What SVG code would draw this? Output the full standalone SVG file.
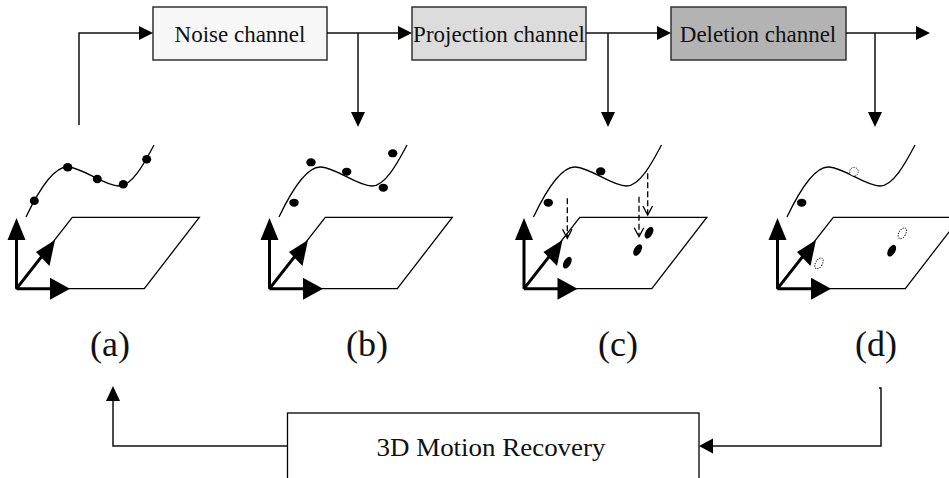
<svg xmlns="http://www.w3.org/2000/svg" xmlns:xlink="http://www.w3.org/1999/xlink" width="949" height="478" viewBox="0 0 949 478">
<style>
.box{stroke:#333;stroke-width:1.5}
.t{font-family:"Liberation Serif","Times New Roman",serif;fill:#111;text-anchor:middle}
.conn{fill:none;stroke:#111;stroke-width:1.5}
.ah{fill:#000}
.thin{fill:none;stroke:#000;stroke-width:1.3}
.axis{fill:none;stroke:#000;stroke-width:3}
.dot{fill:#000}
.dash{fill:none;stroke:#000;stroke-width:1.3;stroke-dasharray:6 3}
.ghost{fill:#fff;stroke:#000;stroke-width:0.9;stroke-dasharray:1.2 1.2}
</style>
<defs>
<g id="scene">
<path class="thin" d="M16.5,288.7 L72.3,217.3 L199.3,217.3 L144.3,288.7 Z"/>
<path class="axis" d="M16.5,288.7 V235 M16.5,288.7 H52 M16.5,288.7 L46,251"/>
<path class="ah" d="M16.5,218 L7.5,240 L25.5,240 Z"/>
<path class="ah" d="M70,288.7 L50,277.7 L50,299.7 Z"/>
<path class="ah" d="M55,240 L36,252 L49.5,266 Z"/>
<path class="thin" d="M26,217 C36,196 52,166 68,167 C84,168 104,186 119,186 C132,186 144,164 154,145"/>
</g>
</defs>

<g id="panel-a">
<use xlink:href="#scene"/>
<ellipse class="dot" cx="34.3" cy="200.7" rx="4.5" ry="4.3"/>
<ellipse class="dot" cx="67.7" cy="167.3" rx="4.7" ry="4.3"/>
<ellipse class="dot" cx="97.3" cy="179" rx="4.5" ry="4.3"/>
<ellipse class="dot" cx="123.3" cy="184.3" rx="4.5" ry="4.3"/>
<ellipse class="dot" cx="146.7" cy="159.3" rx="4.5" ry="4.3"/>
<text class="t" x="110" y="356" font-size="36">(a)</text>
</g>

<g id="panel-b">
<use xlink:href="#scene" transform="translate(253,0)"/>
<ellipse class="dot" cx="294" cy="202.7" rx="4.7" ry="4"/>
<ellipse class="dot" cx="311" cy="162.3" rx="4.7" ry="4"/>
<ellipse class="dot" cx="346.7" cy="171.7" rx="4.7" ry="4"/>
<ellipse class="dot" cx="383.3" cy="187.7" rx="4.7" ry="4"/>
<ellipse class="dot" cx="392.7" cy="153.3" rx="4.7" ry="4"/>
<text class="t" x="367" y="356" font-size="36">(b)</text>
</g>

<g id="panel-c">
<use xlink:href="#scene" transform="translate(507.5,0)"/>
<ellipse class="dot" cx="548.3" cy="202.7" rx="4.7" ry="4"/>
<ellipse class="dot" cx="600.7" cy="171.3" rx="4.7" ry="4"/>
<ellipse class="dot" cx="567.3" cy="262.7" rx="3.6" ry="6.4" transform="rotate(30 567.3 262.7)"/>
<ellipse class="dot" cx="637.7" cy="250" rx="3.6" ry="6.4" transform="rotate(30 637.7 250)"/>
<ellipse class="dot" cx="649" cy="232.7" rx="3.6" ry="6.4" transform="rotate(30 649 232.7)"/>
<path class="dash" d="M567.3,198.3 V237"/>
<path class="thin" d="M562.5,229.3 L567.3,238.3 L572,229.3"/>
<path class="dash" d="M639,196.7 V235.5"/>
<path class="thin" d="M634.2,227.7 L639,236.7 L643.8,227.7"/>
<path class="dash" d="M647.7,173.3 V214"/>
<path class="thin" d="M642.9,206 L647.7,215 L652.5,206"/>
<text class="t" x="618" y="356" font-size="36">(c)</text>
</g>

<g id="panel-d">
<use xlink:href="#scene" transform="translate(761,0)"/>
<ellipse class="dot" cx="801.7" cy="202.7" rx="4.7" ry="4"/>
<ellipse class="ghost" cx="854" cy="171.7" rx="4.3" ry="4.3"/>
<ellipse class="ghost" cx="819" cy="263.3" rx="3.4" ry="6" transform="rotate(30 819 263.3)"/>
<ellipse class="ghost" cx="902.3" cy="233.3" rx="3.4" ry="6" transform="rotate(30 902.3 233.3)"/>
<ellipse class="dot" cx="891.7" cy="250.7" rx="3.6" ry="6.4" transform="rotate(30 891.7 250.7)"/>
<text class="t" x="876" y="356" font-size="36">(d)</text>
</g>

<g id="noise-channel">
<rect class="box" x="153" y="7" width="174" height="53" fill="#f7f7f7"/>
<text class="t" x="240" y="42" font-size="23">Noise channel</text>
</g>
<g id="projection-channel">
<rect class="box" x="412" y="7" width="174" height="53" fill="#dcdcdc"/>
<text class="t" x="499" y="42" font-size="23">Projection channel</text>
</g>
<g id="deletion-channel">
<rect class="box" x="671" y="7" width="175" height="53" fill="#b3b3b3"/>
<text class="t" x="758" y="42" font-size="23">Deletion channel</text>
</g>
<g id="motion-recovery">
<rect x="287.5" y="413" width="411.5" height="80" fill="#fff" stroke="#000" stroke-width="1.3"/>
<text class="t" x="491" y="456" font-size="25" textLength="229" lengthAdjust="spacingAndGlyphs">3D Motion Recovery</text>
</g>

<g id="connectors">
<path class="conn" d="M79,125 V33 H140"/>
<path class="ah" d="M153,33 L139,26 L139,40 Z"/>
<path class="conn" d="M327,33 H399 M358,33 V113"/>
<path class="ah" d="M412,33 L398,26 L398,40 Z"/>
<path class="ah" d="M358,127 L351,112 L365,112 Z"/>
<path class="conn" d="M586,33 H658 M608,33 V113"/>
<path class="ah" d="M671,33 L657,26 L657,40 Z"/>
<path class="ah" d="M608,127 L601,112 L615,112 Z"/>
<path class="conn" d="M846,33 H917 M875,33 V113"/>
<path class="ah" d="M930,33 L916,26 L916,40 Z"/>
<path class="ah" d="M875,127 L868,112 L882,112 Z"/>
<path class="conn" d="M879,388 H881 V446 H712"/>
<path class="ah" d="M699,446 L713,438.5 L713,453.5 Z"/>
<path class="conn" d="M287.5,446 H113 V400"/>
<path class="ah" d="M113,386 L106,401 L120,401 Z"/>
</g>
</svg>
